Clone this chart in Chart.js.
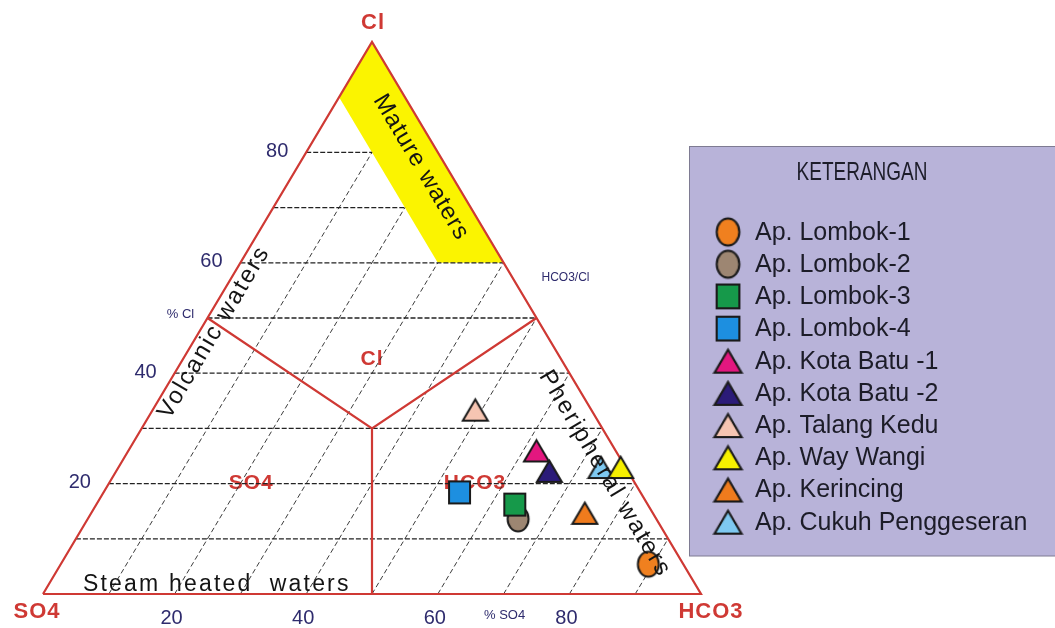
<!DOCTYPE html>
<html>
<head>
<meta charset="utf-8">
<script src="https://cdn.jsdelivr.net/npm/chart.js@4/dist/chart.umd.min.js"></script>
<style>
  html, body { margin: 0; padding: 0; background: #ffffff; overflow: hidden; }
  canvas { display: block; }
</style>
</head>
<body>
<canvas id="chart" width="1055" height="628"></canvas>
<script>
// ---- Sample compositions (relative %, Cl + SO4 + HCO3 = 100) ----
const stations = [
  'Ap. Lombok-1', 'Ap. Lombok-2', 'Ap. Lombok-3', 'Ap. Lombok-4',
  'Ap. Kota Batu -1', 'Ap. Kota Batu -2', 'Ap. Talang Kedu', 'Ap. Way Wangi',
  'Ap. Kerincing', 'Ap. Cukuh Penggeseran'
];
const clPct   = [5.4, 13.6, 16.2, 18.4, 26.0, 22.3, 33.4, 23.0, 14.7, 23.0];
const so4Pct  = [5.3, 21.0, 20.2, 27.5, 12.0, 11.9, 17.6, 0.7, 10.3, 3.7];
const hco3Pct = [89.3, 65.4, 63.6, 54.1, 62.0, 65.8, 49.0, 76.3, 75.0, 73.3];
const markerShapes = ['ellipse', 'ellipse', 'square', 'square', 'triangle',
                      'triangle', 'triangle', 'triangle', 'triangle', 'triangle'];
const markerColors = ['#f0801f', '#9d8672', '#16994a', '#1d8fe0', '#e3177f',
                      '#2b1b78', '#f6c5b2', '#f6f000', '#ef7b1d', '#7ec9f1'];
// stacking: lower number is painted on top
const drawOrder = [1, 3, 2, 4, 5, 6, 7, 9, 8, 10];

// ---- Diagram grid and fields (%) ----
const clGrid     = [10, 20, 30, 40, 50, 60, 70, 80];       // horizontal dashed lines
const hco3Grid   = [10, 20, 30, 40, 50, 60, 70, 80, 90];   // slanted dashed lines
const clTicks    = [20, 40, 60, 80];
const so4Ticks   = [20, 40, 60, 80];
const matureClMin  = 60;   // mature waters: Cl >= 60 and SO4 <= 10
const matureSo4Max = 10;
const fieldCentre  = { cl: 30, so4: 35, hco3: 35 };
const fieldSideCl  = 50;

// ternary (Cl, HCO3) -> chart coordinates
function tern(cl, hco3) {
  return { x: (hco3 + cl / 2) / 100, y: cl / 100 };
}
const GAP = { x: null, y: null };

// grid line data
const hLines = [];
clGrid.forEach(c => {
  const end = c > matureClMin ? 100 - matureSo4Max - c : 100 - c;
  hLines.push(tern(c, 0), tern(c, end), GAP);
});
const sLines = [];
hco3Grid.forEach(h => {
  const top = h <= 100 - matureSo4Max - matureClMin ? 100 - matureSo4Max - h : 100 - h;
  sLines.push(tern(0, h), tern(top, h), GAP);
});
const matureBand = [
  tern(100 - matureSo4Max, 0), tern(100, 0), tern(matureClMin, 100 - matureClMin),
  tern(matureClMin, 100 - matureSo4Max - matureClMin), tern(100 - matureSo4Max, 0)
];
const centre = tern(fieldCentre.cl, fieldCentre.hco3);
const fieldLines = [
  tern(fieldSideCl, 0), centre, tern(fieldSideCl, 100 - fieldSideCl), GAP,
  centre, tern(0, fieldCentre.hco3 + fieldCentre.cl / 2)
];
const outline = [tern(0, 0), tern(0, 100), tern(100, 0), tern(0, 0)];

// ---- marker images ----
const markerSize = { ellipse: [22, 26], square: [21, 22], triangle: [25, 22] };
function makeMarker(shape, color) {
  const [w, h] = markerSize[shape];
  const pad = 2;
  const c = document.createElement('canvas');
  c.width = w + pad * 2; c.height = h + pad * 2;
  const g = c.getContext('2d');
  g.fillStyle = color; g.strokeStyle = '#1a1a1a'; g.lineWidth = 2;
  g.beginPath();
  if (shape === 'ellipse') {
    g.ellipse(pad + w / 2, pad + h / 2, w / 2 - 0.5, h / 2 - 0.5, 0, 0, Math.PI * 2);
  } else if (shape === 'square') {
    g.rect(pad, pad, w, h);
  } else {
    g.moveTo(pad + w / 2, pad + 0.8);
    g.lineTo(pad + w, pad + h);
    g.lineTo(pad, pad + h);
    g.closePath();
  }
  g.fill(); g.stroke();
  return c;
}
const markers = stations.map((s, i) => makeMarker(markerShapes[i], markerColors[i]));

const RED = '#cf3934';
const NAVY = '#2e2b6d';
const FONT = "'Liberation Sans', Arial, Helvetica, sans-serif";

const lineBase = { type: 'line', pointRadius: 0, tension: 0, clip: false, spanGaps: false, fill: false };

const datasets = [
  Object.assign({}, lineBase, { data: matureBand, fill: 'shape', backgroundColor: '#fbf400',
    borderWidth: 0, borderColor: 'rgba(0,0,0,0)', order: 100 }),
  Object.assign({}, lineBase, { data: sLines, borderColor: '#262626', borderWidth: 0.9,
    borderDash: [5, 3], order: 91 }),
  Object.assign({}, lineBase, { data: hLines, borderColor: '#222222', borderWidth: 1.3,
    borderDash: [5, 2], order: 90 }),
  Object.assign({}, lineBase, { data: fieldLines, borderColor: RED, borderWidth: 2.2, order: 80 }),
  Object.assign({}, lineBase, { data: outline, borderColor: RED, borderWidth: 2.2,
    borderJoinStyle: 'miter', order: 79 })
];
stations.forEach((name, i) => {
  datasets.push({
    type: 'line', label: name, showLine: false, clip: false,
    data: [tern(clPct[i], hco3Pct[i])],
    pointStyle: markers[i], pointRadius: 12, pointHoverRadius: 12,
    order: drawOrder[i]
  });
});

function drawText(ctx, str, x, y, opt) {
  ctx.save();
  ctx.font = opt.font;
  ctx.fillStyle = opt.color || '#111';
  ctx.textAlign = opt.align || 'center';
  ctx.textBaseline = opt.baseline || 'middle';
  if (opt.spacing) ctx.letterSpacing = opt.spacing + 'px';
  ctx.translate(x, y);
  if (opt.angle) ctx.rotate(opt.angle);
  if (opt.sx) ctx.scale(opt.sx, 1);
  ctx.fillText(str, 0, 0);
  ctx.restore();
}

const ternaryLabels = {
  id: 'ternaryLabels',
  beforeDatasetsDraw(chart) {
    const { ctx } = chart;
    const P = (cl, h) => { const t = tern(cl, h); return { x: chart.scales.x.getPixelForValue(t.x), y: chart.scales.y.getPixelForValue(t.y) }; };
    const f = 'bold 21px ' + FONT;
    let p = P(42.5, 28.75); drawText(ctx, 'Cl', p.x, p.y, { font: f, color: RED, spacing: 1 });
    p = P(20.1, 21.6);      drawText(ctx, 'SO4', p.x, p.y, { font: f, color: RED, spacing: 1 });
    p = P(20.1, 55.6);      drawText(ctx, 'HCO3', p.x, p.y, { font: f, color: RED, spacing: 1 });
  },
  afterDatasetsDraw(chart) {
    const { ctx } = chart;
    const xs = chart.scales.x, ys = chart.scales.y;
    const P = (cl, h) => { const t = tern(cl, h); return { x: xs.getPixelForValue(t.x), y: ys.getPixelForValue(t.y) }; };
    const vS = P(0, 0), vH = P(0, 100), vC = P(100, 0);
    const rightAngle = Math.atan2(vH.y - vC.y, vH.x - vC.x);
    const leftAngle = Math.atan2(vC.y - vS.y, vC.x - vS.x);

    // corner labels
    const vf = 'bold 22px ' + FONT;
    drawText(ctx, 'Cl', vC.x + 1, vC.y - 19, { font: vf, color: RED, spacing: 1 });
    drawText(ctx, 'SO4', vS.x - 6, vS.y + 18, { font: vf, color: RED, spacing: 1 });
    drawText(ctx, 'HCO3', vH.x + 10, vH.y + 18, { font: vf, color: RED, spacing: 1 });

    // tick labels
    const tf = '20px ' + FONT;
    clTicks.forEach(c => { const p = P(c, 0); drawText(ctx, String(c), p.x - 29, p.y - 1, { font: tf, color: NAVY }); });
    so4Ticks.forEach(s => { const p = P(0, s); drawText(ctx, String(s), p.x - 3, p.y + 24, { font: tf, color: NAVY }); });
    const sf = '13px ' + FONT;
    let p = P(fieldSideCl, 0); drawText(ctx, '% Cl', p.x - 27, p.y - 4, { font: sf, color: NAVY });
    p = P(0, 70);              drawText(ctx, '% SO4', p.x + 1, p.y + 21, { font: sf, color: NAVY });
    p = P(57.3, 100 - 57.3);   drawText(ctx, 'HCO3/Cl', p.x + 53, p.y, { font: '12px ' + FONT, color: NAVY });

    // water-type fields
    const wf = '24px ' + FONT;
    p = P(77.3, 18.8); drawText(ctx, 'Mature waters', p.x, p.y, { font: wf, color: '#141414', angle: rightAngle, spacing: 1 });
    p = P(47.4, 2.3);  drawText(ctx, 'Volcanic waters', p.x, p.y, { font: wf, color: '#141414', angle: leftAngle, spacing: 2 });
    p = P(21.8, 74.5); drawText(ctx, 'Pheripheral waters', p.x, p.y, { font: wf, color: '#141414', angle: rightAngle, spacing: 2 });
    p = P(0, 25.2);    drawText(ctx, 'Steam heated  waters', p.x + 8, p.y - 3, { font: '23px ' + FONT, color: '#141414', baseline: 'alphabetic', spacing: 2.2 });
  },
  afterDraw(chart) {
    const { ctx } = chart;
    // legend panel
    ctx.save();
    ctx.fillStyle = '#b8b3d9';
    ctx.strokeStyle = '#7e7b92';
    ctx.lineWidth = 1;
    ctx.fillRect(689.5, 146.5, 380, 409.5);
    ctx.strokeRect(689.5, 146.5, 380, 409.5);
    ctx.restore();
    drawText(ctx, 'KETERANGAN', 862, 173, { font: '25px ' + FONT, color: '#1d1d2a', sx: 0.76 });
    stations.forEach((name, i) => {
      const y = 232 + i * 32.2;
      const m = markers[i];
      const k = 1.08;
      ctx.drawImage(m, 728 - m.width * k / 2, y - m.height * k / 2, m.width * k, m.height * k);
      drawText(ctx, name, 755, y + 1, { font: '25px ' + FONT, color: '#1c1c28', align: 'left' });
    });
  }
};

new Chart(document.getElementById('chart'), {
  type: 'line',
  data: { datasets },
  options: {
    responsive: false,
    animation: false,
    devicePixelRatio: 1,
    events: [],
    layout: { padding: { left: 43, right: 354, top: 42, bottom: 34 } },
    scales: {
      x: { type: 'linear', min: 0, max: 1, display: false },
      y: { type: 'linear', min: 0, max: 1, display: false }
    },
    plugins: { legend: { display: false }, tooltip: { enabled: false } }
  },
  plugins: [ternaryLabels]
});
</script>
</body>
</html>
